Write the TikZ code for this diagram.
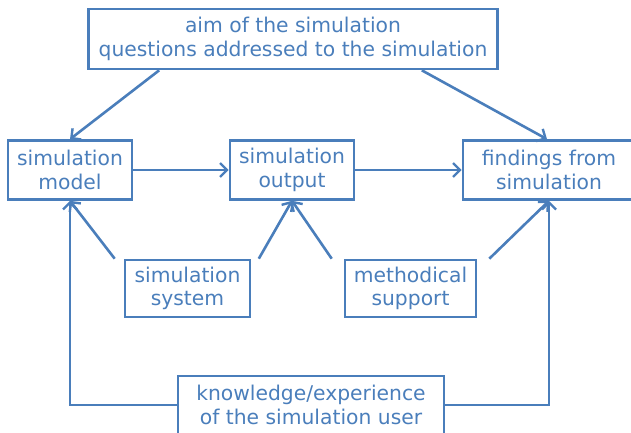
\documentclass[tikz,border=0pt]{standalone}
\usepackage{fontspec}
\setmainfont{DejaVu Sans}
\definecolor{smBlue}{HTML}{4A7EBB}
\usepackage{tikz}
\usetikzlibrary{calc,arrows.meta}

\tikzset{
  smbox/.style={draw=smBlue, line width=2.6pt, text=smBlue, align=center,
    inner sep=0pt, minimum height=59pt, font=\fontsize{20.3}{23.5}\selectfont},
  smarrow/.style={draw=smBlue, line width=2.6pt,
    -{Straight Barb[length=7pt,width=14pt,line width=2.4pt]}}
}

\begin{document}
\begin{tikzpicture}[x=1pt, y=-1pt]
  \useasboundingbox (0,0) rectangle (631,433);

  % Aim
  \node[smbox, minimum width=409pt, minimum height=60pt] (aim) at (293,39)
    {aim of the simulation\\questions addressed to the simulation};

  % Middle row
  \node[smbox, minimum width=124pt] (model) at (70,170) {simulation\\model};
  \node[smbox, minimum width=124pt] (output) at (292,170) {simulation\\output};
  \node[smbox, minimum width=172pt] (findings) at (549,170) {findings from\\simulation};

  % Support row
  \node[smbox, minimum width=125pt, minimum height=57pt] (system) at (187.5,288.5) {simulation\\system};
  \node[smbox, minimum width=131pt, minimum height=57pt] (support) at (410.5,288.5) {methodical\\support};

  % User
  \node[smbox, minimum width=266pt, minimum height=58pt] (user) at (311,405)
    {knowledge/experience\\of the simulation user};

  % Free ends
  \coordinate (aimL) at ($(aim.south west)+(72,0)$);
  \coordinate (aimR) at ($(aim.south east)+(-77,0)$);
  \coordinate (sysL) at ($(system.north west)+(-9,0)$);
  \coordinate (sysR) at ($(system.north east)+(7.5,0)$);
  \coordinate (supL) at ($(support.north west)+(-12,0)$);
  \coordinate (supR) at ($(support.north east)+(12,0)$);

  % Connectors
  \draw[smarrow] (aimL) -- (model.north);
  \draw[smarrow] (aimR) -- ($(findings.north)+(-2,0)$);
  \draw[smarrow] (model.east) -- (output.west);
  \draw[smarrow] (output.east) -- (findings.west);
  \draw[smarrow] (sysL) -- (model.south);
  \draw[smarrow] (sysR) -- (output.south);
  \draw[smarrow] (supL) -- (output.south);
  \draw[smarrow] (supR) -- (findings.south);
  \draw[smarrow] (user.west) -| (model.south);
  \draw[smarrow] (user.east) -| (findings.south);
\end{tikzpicture}
\end{document}
